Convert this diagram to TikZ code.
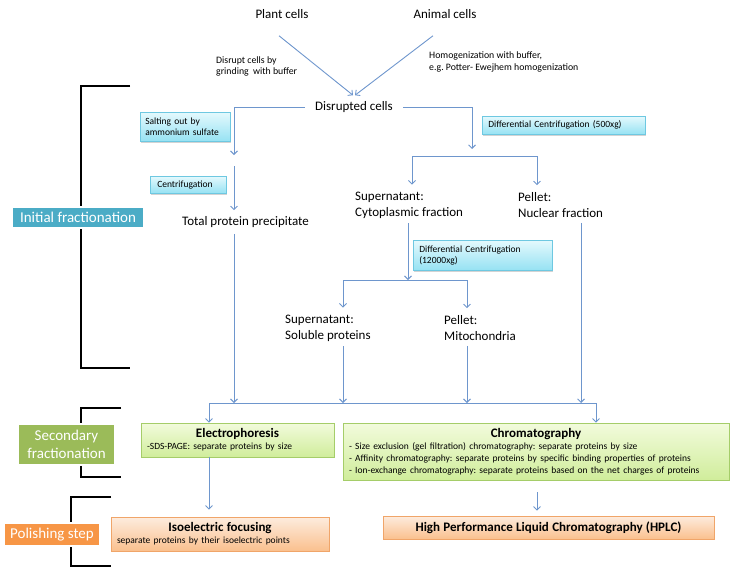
\documentclass[tikz,border=0pt]{standalone}
\usepackage{fontspec}
\setmainfont{Carlito}
\usetikzlibrary{arrows.meta,shadows,calc}
\definecolor{arrc}{RGB}{110,150,205}
\definecolor{cyanb}{RGB}{110,200,225}
\definecolor{cyant}{RGB}{228,249,253}
\definecolor{cyanbot}{RGB}{150,226,243}
\definecolor{greenb}{RGB}{165,205,105}
\definecolor{greent}{RGB}{242,251,220}
\definecolor{greenbot}{RGB}{208,237,155}
\definecolor{orangeb}{RGB}{240,165,105}
\definecolor{oranget}{RGB}{253,236,222}
\definecolor{orangebot}{RGB}{250,192,142}
\definecolor{teal}{RGB}{75,172,198}
\definecolor{olive}{RGB}{155,187,89}
\definecolor{orng}{RGB}{247,150,70}
\newcommand\ttlfont{\fontsize{13}{14}\selectfont\bfseries}
\newcommand\subfont{\fontsize{9.5}{12}\selectfont}
\frenchspacing
\begin{document}
\frenchspacing
\begin{tikzpicture}[x=1pt,y=-1pt,
  lbl/.style={font=\fontsize{13}{16}\selectfont, inner sep=1pt},
  lbl2/.style={lbl, align=left, anchor=west},
  note/.style={font=\fontsize{9.8}{11.5}\selectfont, inner sep=1pt, align=left, anchor=west},
  arr/.style={draw=arrc, line width=0.9pt, -{Straight Barb[length=3.5pt,width=7pt]}},
  ln/.style={draw=arrc, line width=0.9pt},
  shad/.style={drop shadow={opacity=0.35, shadow xshift=1pt, shadow yshift=-1.2pt}},
  cbox/.style={draw=cyanb, line width=0.6pt, top color=cyant, bottom color=cyanbot, shad,
    font=\fontsize{9.5}{11}\selectfont, align=left, anchor=north west, inner ysep=1pt, inner xsep=#1},
  gbox/.style={draw=greenb, line width=0.6pt, top color=greent, bottom color=greenbot, shad,
    align=left, inner xsep=6pt, inner ysep=1pt},
  obox/.style={draw=orangeb, line width=0.6pt, top color=oranget, bottom color=orangebot, shad,
    align=left, inner xsep=6pt, inner ysep=1pt},
  stage/.style={draw=white, line width=1.3pt, text=white, shad, inner sep=0pt, align=center},
  brk/.style={draw=black, line width=2.4pt}
]
\useasboundingbox (0,0) rectangle (732,573);

% brackets
\draw[brk] (130,86) -- (81,86) -- (81,368) -- (130,368);
\draw[brk] (121,408) -- (81,408) -- (81,477) -- (121,477);
\draw[brk] (111,497) -- (71,497) -- (71,566) -- (111,566);

% stage labels
\node[stage, fill=teal, minimum width=132pt, minimum height=21pt, font=\fontsize{15}{16}\selectfont] (initial) at (78,217.5) {Initial fractionation};
\node[stage, fill=olive, minimum width=97pt, minimum height=41pt, font=\fontsize{15}{18}\selectfont] (secondary) at (66.5,444.5) {Secondary\\fractionation};
\node[stage, fill=orng, minimum width=96pt, minimum height=23pt, font=\fontsize{15}{16}\selectfont] (polish) at (52,534.5) {Polishing step};

% text nodes
\node[lbl] (plant) at (282,14) {Plant cells};
\node[lbl] (animal) at (445,14) {Animal cells};
\node[note] (grind) at (215,66.5) {Disrupt cells by\\grinding\ \ with buffer};
\node[note] (homog) at (428,62) {Homogenization with buffer,\\e.g. Potter- Ewejhem homogenization};
\node[lbl] (disrupted) at (354,107) {Disrupted cells};
\node[lbl] (total) at (245.5,222) {Total protein precipitate};
\node[lbl2] (cyto) at (354,205) {Supernatant:\\Cytoplasmic fraction};
\node[lbl2] (nuclear) at (517,205) {Pellet:\\Nuclear fraction};
\node[lbl2] (soluble) at (284,328) {Supernatant:\\Soluble proteins};
\node[lbl2] (mito) at (443,328) {Pellet:\\Mitochondria};

% cyan step boxes
\node[cbox=5pt, text width=80pt, minimum height=29pt] (salt) at (140,112) {Salting out by\\ammonium sulfate};
\node[cbox=6pt, text width=151pt, minimum height=18pt] (dc500) at (482,116) {Differential Centrifugation (500xg)};
\node[cbox=7pt, text width=62pt, minimum height=17pt] (centri) at (150,176) {Centrifugation};
\node[cbox=6pt, text width=127pt, minimum height=30pt] (dc12) at (413,240) {Differential Centrifugation\\(12000xg)};

% method boxes
\node[gbox, text width=181pt, minimum height=34pt] (electro) at (237.5,440)
  {{\centering\ttlfont Electrophoresis\par}\subfont -SDS-PAGE: separate proteins by size};
\node[gbox, text width=374pt, minimum height=57pt] (chroma) at (536,451.5)
  {{\centering\ttlfont Chromatography\par}\subfont
   - Size exclusion (gel filtration) chromatography: separate proteins by size\\
   - Affinity chromatography: separate proteins by specific binding properties of proteins\\
   - Ion-exchange chromatography: separate proteins based on the net charges of proteins};
\node[obox, text width=206pt, minimum height=34pt] (iso) at (220,534)
  {{\centering\ttlfont Isoelectric focusing\par}\subfont separate proteins by their isoelectric points};
\node[obox, text width=319pt, minimum height=23pt, align=center] (hplc) at (548.5,527.5)
  {\ttlfont High Performance Liquid Chromatography (HPLC)};

% junction coordinates
\coordinate (c1) at (234,155);
\coordinate (s1) at (472,156);
\coordinate (s2) at (408,280);
\coordinate (xc) at (412,0);
\coordinate (xp) at (537,0);
\coordinate (xs) at (343,0);
\coordinate (xm) at (467,0);
\coordinate (xn) at (581,0);
\coordinate (barL) at (209,403);
\coordinate (barR) at (596,403);

% connectors
\draw[arr] ($(plant.south)+(-3,16)$) -- ($(disrupted.north)+(-1,-5)$);
\draw[arr] ($(animal.south)+(-12,16)$) -- ($(disrupted.north)+(1,-5)$);

\draw[arr] ($(disrupted.west)+(-9,0)$) -| (c1);
\draw[arr] ($(c1)+(0,11)$) -- ($(total.north -| c1)+(0,-5)$);
\draw[arr] ($(total.south -| c1)+(0,5)$) -- (c1 |- barL);

\draw[arr] ($(disrupted.east)+(9,0)$) -| ($(s1)+(0,-7)$);
\draw[arr] (s1) -| ($(cyto.north -| xc)+(0,-6)$);
\draw[arr] (s1) -| ($(nuclear.north -| xp)+(0,-6)$);

\draw[arr] ($(cyto.south -| s2)+(0,4)$) -- (s2);
\draw[arr] (s2) -| ($(soluble.north -| xs)+(0,-6)$);
\draw[arr] (s2) -| ($(mito.north -| xm)+(0,-6)$);

\draw[arr] ($(soluble.south -| xs)+(0,4)$) -- (xs |- barL);
\draw[arr] ($(mito.south -| xm)+(0,4)$) -- (xm |- barL);
\draw[arr] ($(nuclear.south -| xn)+(0,4)$) -- (xn |- barL);

\draw[ln] (barL) -- (barR);
\draw[arr] (barL) -- (barL |- electro.north);
\draw[arr] (barR) -- (barR |- chroma.north);

\draw[arr] (electro.south -| barL) -- ($(iso.north -| barL)+(0,-7)$);
\draw[arr] ($(chroma.south)+(1,12)$) -- ($(chroma.south |- hplc.north)+(1,-5)$);
\end{tikzpicture}
\end{document}
